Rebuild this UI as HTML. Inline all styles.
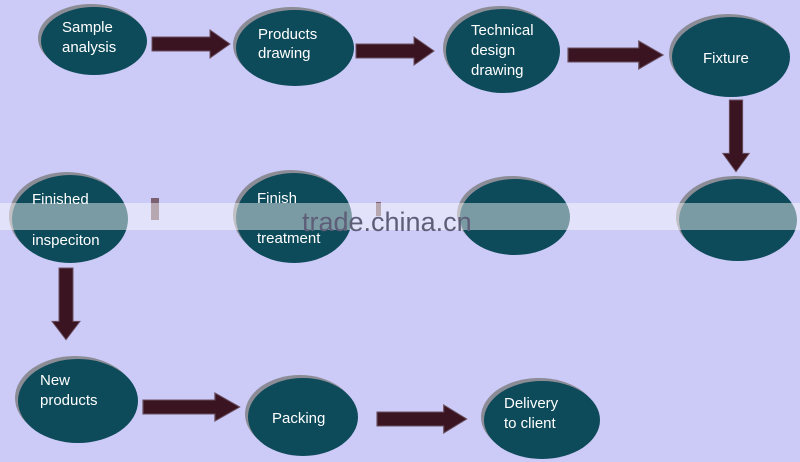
<!DOCTYPE html>
<html><head><style>
html,body{margin:0;padding:0;background:#cccbf8;}
svg{display:block}
text{font-family:"Liberation Sans",sans-serif;font-size:15px;fill:#fff}
</style></head><body>
<svg width="800" height="462" viewBox="0 0 800 462">
<rect width="800" height="462" fill="#cccbf8"/>
<defs>
<g id="ar"><path d="M0,-7 H58 V-14 L78,0 L58,14 V7 H0 Z" fill="#3a1420" stroke="#6a5060" stroke-width="1"/></g>
</defs>
<g fill="#8c8c96">
<ellipse cx="91" cy="38" rx="53" ry="34"/>
<ellipse cx="292" cy="45" rx="59" ry="38"/>
<ellipse cx="500" cy="48" rx="57" ry="42"/>
<ellipse cx="728" cy="54" rx="59" ry="40"/>
<ellipse cx="67" cy="216" rx="58" ry="44"/>
<ellipse cx="291" cy="215" rx="58" ry="45"/>
<ellipse cx="512" cy="214" rx="55" ry="38"/>
<ellipse cx="735" cy="217" rx="59" ry="41"/>
<ellipse cx="75" cy="398" rx="60" ry="42"/>
<ellipse cx="300" cy="414" rx="55" ry="39"/>
<ellipse cx="539" cy="417" rx="58" ry="39"/>
</g>
<g fill="#0d4a5a">
<ellipse cx="94" cy="41" rx="53" ry="34"/>
<ellipse cx="295" cy="48" rx="59" ry="38"/>
<ellipse cx="503" cy="51" rx="57" ry="42"/>
<ellipse cx="731" cy="57" rx="59" ry="40"/>
<ellipse cx="70" cy="219" rx="58" ry="44"/>
<ellipse cx="294" cy="218" rx="58" ry="45"/>
<ellipse cx="515" cy="217" rx="55" ry="38"/>
<ellipse cx="738" cy="220" rx="59" ry="41"/>
<ellipse cx="78" cy="401" rx="60" ry="42"/>
<ellipse cx="303" cy="417" rx="55" ry="39"/>
<ellipse cx="542" cy="420" rx="58" ry="39"/>
</g>
<use href="#ar" transform="translate(152,44)"/>
<use href="#ar" transform="translate(356,51)"/>
<use href="#ar" transform="translate(568,55) scale(1.22,1)"/>
<use href="#ar" transform="translate(736,100) rotate(90) scale(0.92,0.95)"/>
<use href="#ar" transform="translate(66,268) rotate(90) scale(0.92,1)"/>
<use href="#ar" transform="translate(143,407) scale(1.24,1)"/>
<use href="#ar" transform="translate(377,419) scale(1.15,1)"/>
<rect x="151" y="198" width="8" height="22" fill="#7a6070"/>
<rect x="376" y="202" width="5" height="14" fill="#7a6070"/>
<text x="62" y="32">Sample</text><text x="62" y="52">analysis</text>
<text x="258" y="39">Products</text><text x="258" y="58">drawing</text>
<text x="471" y="35">Technical</text><text x="471" y="55">design</text><text x="471" y="75">drawing</text>
<text x="703" y="63">Fixture</text>
<text x="32" y="204">Finished</text><text x="32" y="245">inspeciton</text>
<text x="257" y="203">Finish</text><text x="257" y="243">treatment</text>
<text x="40" y="385">New</text><text x="40" y="405">products</text>
<text x="272" y="423">Packing</text>
<text x="504" y="408">Delivery</text><text x="504" y="428">to client</text>
<rect x="0" y="203" width="800" height="27" fill="#ffffff" opacity="0.45"/>
<text x="302" y="231" style="font-size:27px;fill:#5e5e78">trade.china.cn</text>
</svg>
</body></html>
